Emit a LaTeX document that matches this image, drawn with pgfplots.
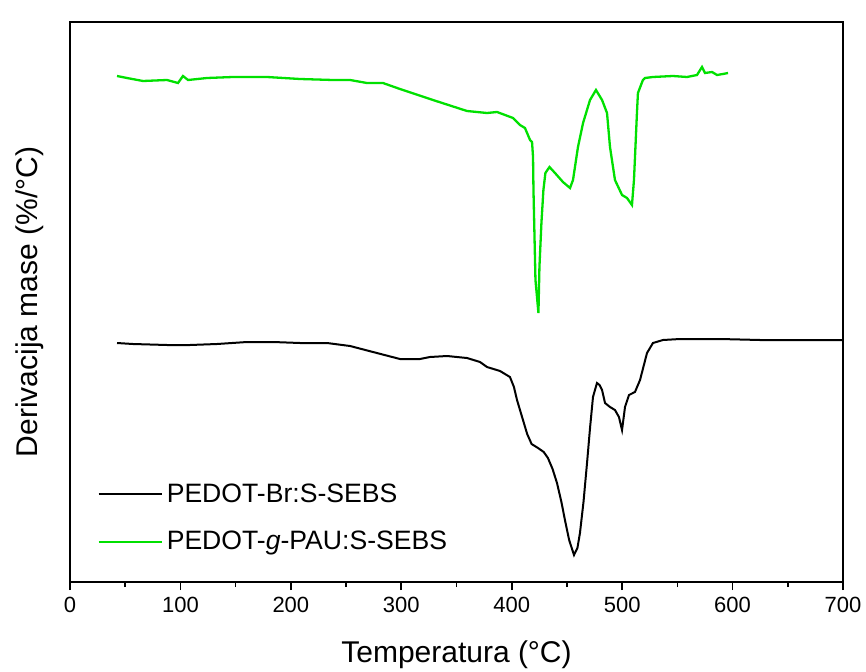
\documentclass[border=0pt]{standalone}
\usepackage{fontspec}
\setmainfont{Liberation Sans}
\usepackage{pgfplots}
\pgfplotsset{compat=1.18}
\definecolor{dtggreen}{RGB}{0,224,0}

\begin{document}
\begin{tikzpicture}
\useasboundingbox (-35pt,-44.5pt) rectangle (398pt,291pt);
\begin{axis}[
  scale only axis,
  width=386.5pt, height=280pt,
  xmin=0, xmax=700, ymin=0, ymax=560,
  xtick={0,100,...,700},
  minor xtick={50,150,...,650},
  ytick=\empty,
  xtick pos=bottom,
  tick align=outside,
  major tick length=4pt,
  minor tick length=2.5pt,
  axis line style={line width=0.8pt},
  every tick/.style={black, line width=0.8pt},
  /pgf/number format/assume math mode=true,
  xticklabel style={font=\fontsize{11}{13}\selectfont},
  xlabel={Temperatura (°C)},
  ylabel={Derivacija mase (\%/°C)},
  label style={font=\fontsize{15}{18}\selectfont},
  xlabel style={at={(axis description cs:0.5,-0.1304)}, anchor=center},
  ylabel style={at={(axis description cs:-0.0517,0.5)}, anchor=center},
  legend style={draw=none, fill=none, at={(0.035,0.114)}, anchor=west,
    font=\fontsize{13.3}{15}\selectfont, row sep=9pt, inner sep=0pt},
  legend cell align=left,
  legend image code/.code={\draw[#1] (0pt,0pt) -- (31.5pt,0pt);},
]
% black: PEDOT-Br:S-SEBS
\addplot[black, line width=1pt] coordinates {
(42.6,239) (57.0,238) (87.8,237) (108.7,237) (133.1,238) (160.3,240)
(183.8,240) (208.3,239) (232.7,239) (253.6,236) (274.4,230) (298.8,223)
(316.9,223) (326.0,225) (341.4,226) (359.5,224) (371.3,220) (377.6,215)
(389.4,211) (398.4,205) (402.0,195) (404.8,182) (410.2,162) (414.0,148)
(418.0,138) (423.8,134) (429.0,130) (432.8,124) (437.0,113) (441.0,99)
(445.0,80) (448.2,62) (452.0,42) (456.4,27) (459.5,34) (461.8,49)
(465.0,80) (468.2,119) (471.0,155) (473.6,185) (477.2,199) (479.5,197)
(481.8,192) (484.5,179) (489.0,175) (493.5,172) (497.1,165)
(499.9,152) (502.6,175) (506.2,187) (511.6,190) (516.2,202) (522.5,229)
(527.9,239) (537.0,242) (552.4,243) (588.6,243) (624.8,242) (661.1,242)
(700.0,242)
};
\addlegendentry{PEDOT-Br:S-SEBS}
% green: PEDOT-g-PAU:S-SEBS
\addplot[dtggreen, line width=1.15pt] coordinates {
(42.6,506) (51.6,504) (66.1,501) (87.8,502) (97.8,499) (102.3,506)
(106.9,502) (124.1,504) (147.6,505) (178.4,505) (208.3,503) (238.2,502)
(253.6,502) (268.9,499) (283.4,499) (298.8,493) (328.7,482) (359.5,471)
(377.6,469) (386.7,470) (401.2,464) (407.5,457) (412.0,454) (416.6,442)
(418.4,440) (419.3,425) (419.7,392) (421.5,302) (424.2,269) (425.1,315)
(426.9,359) (428.7,392) (430.5,409) (434.2,415) (439.2,409) (446.4,400)
(452.8,394) (455.5,402) (460.0,435) (464.6,459) (470.9,482) (476.3,492)
(481.8,482) (486.3,469) (489.0,435) (493.5,402) (499.9,387) (504.4,384)
(508.9,377) (510.7,402) (511.6,424) (513.4,469) (514.3,489) (518.8,502)
(520.7,504) (527.9,505) (546.0,506) (558.7,505) (567.8,507) (572.3,515)
(575.0,509) (581.4,510) (585.9,507) (591.3,508) (595.9,509)
};
\addlegendentry{PEDOT-\textit{g}-PAU:S-SEBS}
\end{axis}
\end{tikzpicture}
\end{document}
